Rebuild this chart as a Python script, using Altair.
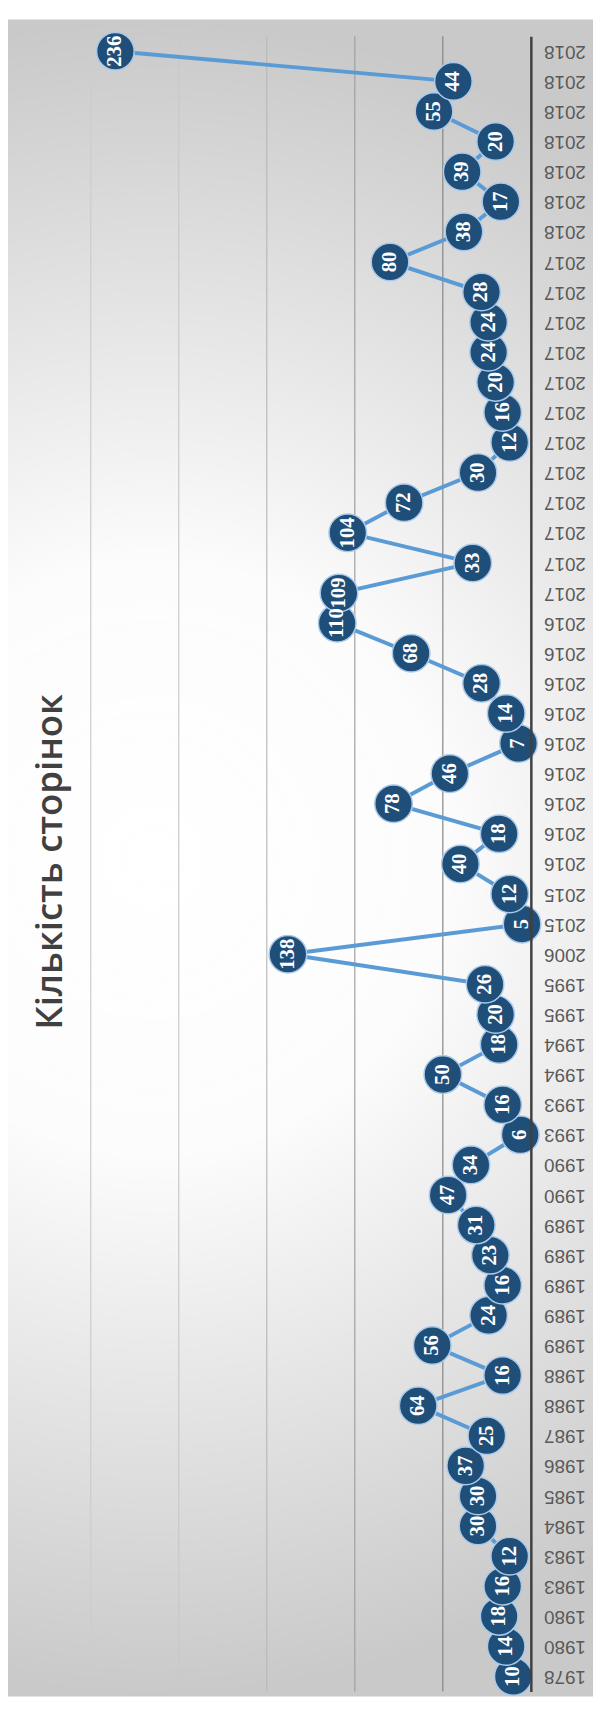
import json
import altair as alt
import pandas as pd

# ---- data (bottom of the chart = first item) ----
years = [
    "1978", "1980", "1980", "1983", "1983", "1984", "1985", "1986", "1987",
    "1988", "1988", "1989", "1989", "1989", "1989", "1989", "1990", "1990",
    "1993", "1993", "1994", "1994", "1995", "1995", "2006", "2015", "2015",
    "2016", "2016", "2016", "2016", "2016", "2016", "2016", "2016", "2016",
    "2017", "2017", "2017", "2017", "2017", "2017", "2017", "2017", "2017",
    "2017", "2017", "2017",
    "2018", "2018", "2018", "2018", "2018", "2018", "2018",
]
pages = [
    10, 14, 18, 16, 12, 30, 30, 37, 25,
    64, 16, 56, 24, 16, 23, 31, 47, 34,
    6, 16, 50, 18, 20, 26, 138, 5, 12,
    40, 18, 78, 46, 7, 14, 28, 68, 110,
    109, 33, 104, 72, 30, 12, 16, 20, 24,
    24, 28, 80,
    38, 17, 39, 20, 55, 44, 236,
]
grid_values = [50, 100, 150, 200, 250]
grid_colors = ["#858585", "#9f9f9f", "#b9b9b9", "#c9c9c9", "#cdcdcd"]
title_text = "Кількість сторінок"

df = pd.DataFrame({"idx": list(range(len(pages))), "year": years, "pages": pages})
grid_df = pd.DataFrame({"v": grid_values, "c": grid_colors})
one = pd.DataFrame({"a": [0]})

W, H = 530, 1678
PAD = {"left": 0, "top": 17, "right": 63, "bottom": 5}

xscale = alt.Scale(domain=[0, 297], reverse=True, nice=False, zero=True)
yscale = alt.Scale(type="point", padding=0.5)

label_expr = json.dumps(years) + "[datum.value]"

y_axis = alt.Axis(
    orient="right", title=None, ticks=False, grid=False, zindex=1,
    domainColor="#3f3f3f", domainWidth=2.5,
    labelExpr=label_expr, labelAngle=180, labelAlign="right",
    labelBaseline="middle", labelPadding=13,
    labelFont="Liberation Sans", labelFontSize=19, labelColor="#595959",
)

# background
bg_base = alt.Chart(one).mark_rect(color="#c9c9c9").encode(
    x=alt.value(0), x2=alt.value(W + PAD["right"]),
    y=alt.value(-PAD["top"]), y2=alt.value(H + PAD["bottom"]),
)
bg_glow = alt.Chart(one).mark_rect(
    color=alt.RadialGradient(
        gradient="radial",
        x1=0.41, y1=0.5, r1=0, x2=0.41, y2=0.5, r2=0.5,
        stops=[
            alt.GradientStop(offset=0, color="rgba(255,255,255,1)"),
            alt.GradientStop(offset=0.35, color="rgba(255,255,255,0.95)"),
            alt.GradientStop(offset=1, color="rgba(255,255,255,0)"),
        ],
    )
).encode(
    x=alt.value(-200), x2=alt.value(800),
    y=alt.value(-PAD["top"]), y2=alt.value(H + PAD["bottom"]),
)

grid = alt.Chart(grid_df).mark_rule(strokeWidth=1.2).encode(
    x=alt.X("v:Q", scale=xscale, axis=None),
    color=alt.Color("c:N", scale=None),
)

base = alt.Chart(df).encode(
    y=alt.Y("idx:O", sort="descending", scale=yscale, axis=y_axis),
    x=alt.X("pages:Q", scale=xscale, axis=None),
)

line = base.mark_line(color="#5b9bd5", strokeWidth=4)
dots = base.mark_circle(size=1450, color="#1f4e79", opacity=1,
                        stroke="#a9c9ea", strokeWidth=1.5)
labels = base.mark_text(angle=270, font="Liberation Serif", fontWeight="bold",
                        fontSize=21, color="white", baseline="middle",
                        align="center").encode(text="pages:Q")

title = alt.Chart(pd.DataFrame({"t": [title_text]})).mark_text(
    angle=270, font="Open Sans", fontWeight=600, fontSize=37,
    color="#404040", baseline="middle", align="center",
).encode(text="t:N", x=alt.value(44), y=alt.value(837))

chart = alt.layer(bg_base, bg_glow, grid, title, line, dots, labels).properties(
    width=W, height=H, padding=PAD, autosize=alt.AutoSizeParams(type="none"),
).configure_view(stroke=None)

chart.save("out.html", embed_options={"renderer": "svg", "actions": False})
